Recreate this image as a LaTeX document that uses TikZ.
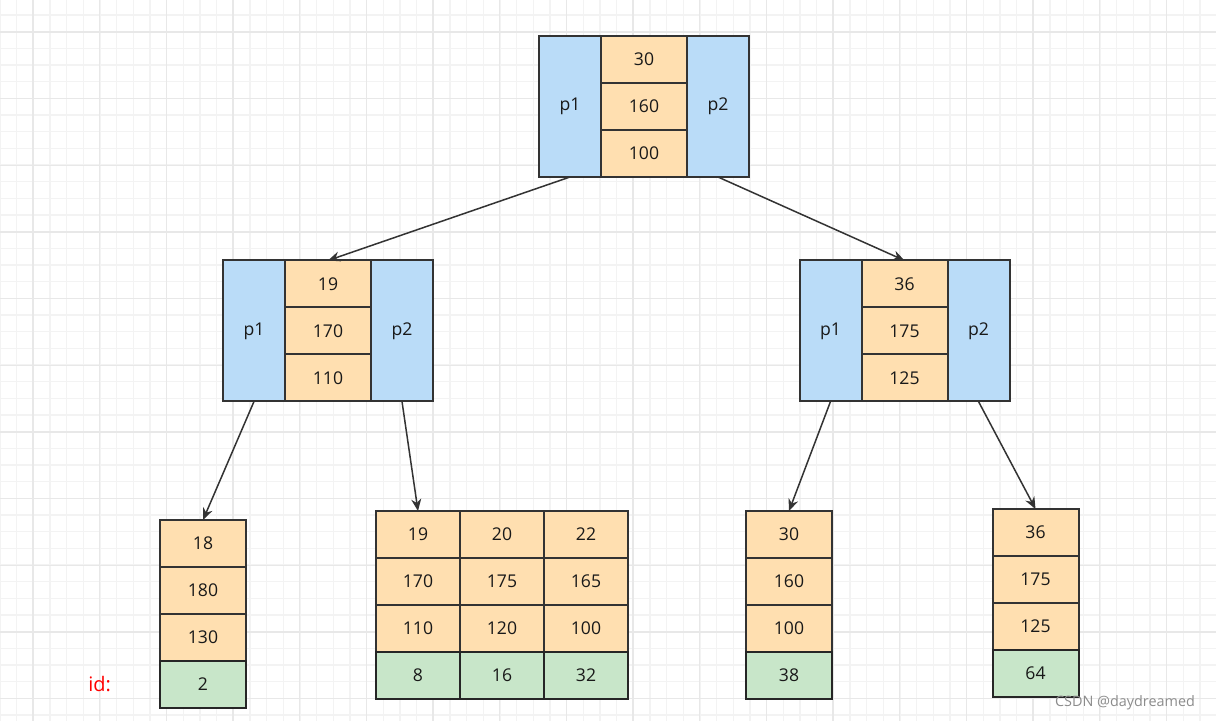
\documentclass[tikz,border=0pt]{standalone}
\usepackage{fontspec}
\setmainfont{Open Sans}
\usepackage{tikz}
\usetikzlibrary{arrows.meta, positioning}
\definecolor{cKey}{HTML}{FFDFB0}
\definecolor{cPtr}{HTML}{BADCF8}
\definecolor{cId}{HTML}{C8E6C9}
\definecolor{cEdge}{HTML}{333333}
\definecolor{cGrid}{HTML}{F3F3F3}
\definecolor{cGridB}{HTML}{E8E8E8}

\begin{document}
\begin{tikzpicture}[
    x=0.5pt, y=-0.5pt,
    nd/.style={draw=cEdge, line width=1pt, outer sep=0pt, inner sep=0pt,
               align=center, font=\fontsize{8.8}{10}\selectfont, text=black!90},
    cell/.style ={nd, fill=cKey, minimum width=43pt, minimum height=23.5pt},
    idcell/.style={nd, fill=cId, draw=black!85, minimum width=43pt, minimum height=23.5pt},
    narrow/.style={minimum width=42pt},
    ptr/.style  ={nd, fill=cPtr, minimum width=31pt, minimum height=70.5pt},
    ar/.style={-{Stealth[length=6pt,width=5pt]}, draw=cEdge, line width=0.75pt},
    gminor/.style={cGrid, line width=0.6pt},
    gmajor/.style={cGridB, line width=0.6pt},
]
\useasboundingbox (0,0) rectangle (1216,721);

% === background grid ===
\fill[white] (0,0) rectangle (1216,721);
\foreach \i in {0,...,73} \draw[gminor] (\i*16.667,0) -- (\i*16.667,721);
\foreach \j in {0,...,44} \draw[gminor] (0,\j*16.667-1.7) -- (1216,\j*16.667-1.7);
\foreach \i in {0,...,18} \draw[gmajor] (\i*66.667+33,0) -- (\i*66.667+33,721);
\foreach \j in {0,...,10} \draw[gmajor] (0,\j*66.667+32) -- (1216,\j*66.667+32);

% === ROOT: p1 | 30 160 100 | p2 ===
\node[cell] (r160) at (644,106.5) {160};
\node[cell, above=0pt of r160] (r30) {30};
\node[cell, below=0pt of r160] (r100) {100};
\node[ptr, left=0pt of r160] (rp1) {p1};
\node[ptr, right=0pt of r160] (rp2) {p2};

% === LEVEL 2 left: p1 | 19 170 110 | p2 ===
\node[cell] (l170) at (328,331) {170};
\node[cell, above=0pt of l170] (l19) {19};
\node[cell, below=0pt of l170] (l110) {110};
\node[ptr, left=0pt of l170] (lp1) {p1};
\node[ptr, right=0pt of l170] (lp2) {p2};

% === LEVEL 2 right: p1 | 36 175 125 | p2 ===
\node[cell] (m175) at (904.5,331) {175};
\node[cell, above=0pt of m175] (m36) {36};
\node[cell, below=0pt of m175] (m125) {125};
\node[ptr, left=0pt of m175] (mp1) {p1};
\node[ptr, right=0pt of m175] (mp2) {p2};

% === LEAVES ===
\node[cell] (a18) at (203,543.5) {18};
\node[cell, below=0pt of a18] (a180) {180};
\node[cell, below=0pt of a180] (a130) {130};
\node[idcell, below=0pt of a130] (a2) {2};

\node[cell, narrow] (b19) at (418,534.5) {19};
\node[cell, narrow, below=0pt of b19] (b170) {170};
\node[cell, narrow, below=0pt of b170] (b110) {110};
\node[idcell, narrow, below=0pt of b110] (b8) {8};
\node[cell, narrow, right=0pt of b19] (b20) {20};
\node[cell, narrow, below=0pt of b20] (b175) {175};
\node[cell, narrow, below=0pt of b175] (b120) {120};
\node[idcell, narrow, below=0pt of b120] (b16) {16};
\node[cell, narrow, right=0pt of b20] (b22) {22};
\node[cell, narrow, below=0pt of b22] (b165) {165};
\node[cell, narrow, below=0pt of b165] (b100) {100};
\node[idcell, narrow, below=0pt of b100] (b32) {32};

\node[cell] (c30) at (789,534.5) {30};
\node[cell, below=0pt of c30] (c160) {160};
\node[cell, below=0pt of c160] (c100) {100};
\node[idcell, below=0pt of c100] (c38) {38};

\node[cell] (d36) at (1035.5,532.5) {36};
\node[cell, below=0pt of d36] (d175) {175};
\node[cell, below=0pt of d175] (d125) {125};
\node[idcell, below=0pt of d125] (d64) {64};

\node[text=red, font=\fontsize{10}{12}\selectfont, left=21pt of a2] (idlbl) {id:};

% === pointers ===
\draw[ar] (rp1.south) -- (l19.north);
\draw[ar] (rp2.south) -- (m36.north);
\draw[ar] (lp1.south) -- (a18.north);
\draw[ar] (lp2.south) -- (b19.north);
\draw[ar] (mp1.south) -- (c30.north);
\draw[ar] (mp2.south) -- (d36.north);

\node[text=black!45, font=\fontsize{7.2}{9}\selectfont, anchor=east] (wm) at (1202,703) {CSDN @daydreamed};

\end{tikzpicture}
\end{document}
